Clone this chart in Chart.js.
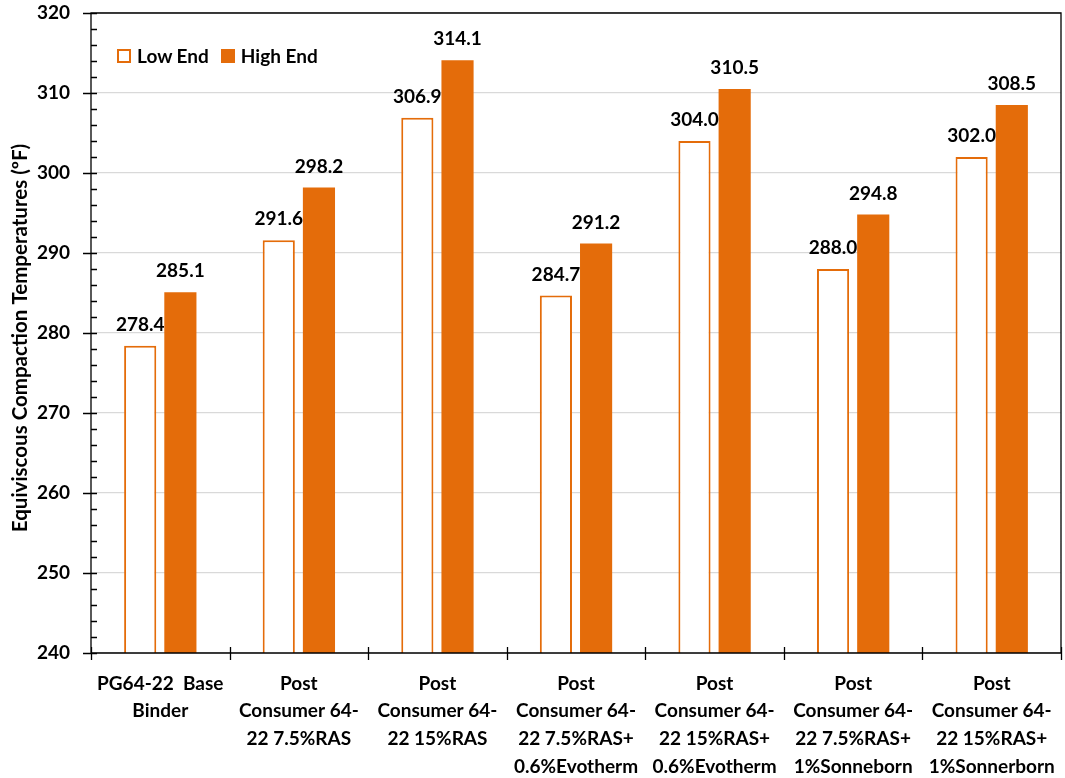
<!DOCTYPE html>
<html>
<head>
<meta charset="utf-8">
<script src="https://cdn.jsdelivr.net/npm/chart.js@4/dist/chart.umd.min.js"></script>
<style>
  html, body { margin: 0; padding: 0; background: #fff; }
  #wrap { position: relative; width: 1065px; height: 778px; }
  #legend {
    position: absolute; left: 117px; top: 44px;
    font: bold 19px Lato, 'Open Sans', sans-serif; color: #000;
    display: flex; align-items: center;
  }
  .item { display: flex; align-items: center; margin-right: 12px; }
  .box { width: 14px; height: 14px; box-sizing: border-box; margin-right: 6px; }
</style>
</head>
<body>
<div id="wrap">
  <canvas id="chart" width="1065" height="778"></canvas>
  <div id="legend">
    <div class="item"><span class="box" style="border:2px solid #E46C0A;background:#fff"></span>Low End</div>
    <div class="item"><span class="box" style="background:#E46C0A"></span>High End</div>
  </div>
</div>
<script>
// Chart data
const categories = [
  ['PG64-22  Base', 'Binder'],
  ['Post', 'Consumer 64-', '22 7.5%RAS'],
  ['Post', 'Consumer 64-', '22 15%RAS'],
  ['Post', 'Consumer 64-', '22 7.5%RAS+', '0.6%Evotherm'],
  ['Post', 'Consumer 64-', '22 15%RAS+', '0.6%Evotherm'],
  ['Post', 'Consumer 64-', '22 7.5%RAS+', '1%Sonneborn'],
  ['Post', 'Consumer 64-', '22 15%RAS+', '1%Sonnerborn']
];
const lowEnd = [278.4, 291.6, 306.9, 284.7, 304.0, 288.0, 302.0];
const highEnd = [285.1, 298.2, 314.1, 291.2, 310.5, 294.8, 308.5];
const yTitle = 'Equiviscous Compaction Temperatures (ºF)';
const yMin = 240;
const yMax = 320;
const yMajor = 10;
const yMinor = 2;

const ORANGE = '#E46C0A';
const FONT = "Lato, 'Open Sans', sans-serif";

// Value labels above each bar
const valueLabels = {
  id: 'valueLabels',
  afterDatasetsDraw(chart) {
    const ctx = chart.ctx;
    ctx.save();
    ctx.font = 'bold 19px ' + FONT;
    ctx.fillStyle = '#000';
    ctx.textAlign = 'center';
    ctx.textBaseline = 'middle';
    chart.data.datasets.forEach((ds, di) => {
      chart.getDatasetMeta(di).data.forEach((bar, i) => {
        ctx.fillText(ds.data[i].toFixed(1), bar.x, bar.y - 21);
      });
    });
    ctx.restore();
  }
};

// Axis box, tick marks (Excel style) and rotated y title
const axisMarks = {
  id: 'axisMarks',
  afterDraw(chart) {
    const ctx = chart.ctx;
    const { left, right, top, bottom } = chart.chartArea;
    const y = chart.scales.y;
    const x = chart.scales.x;
    ctx.save();
    ctx.strokeStyle = '#000';
    ctx.lineWidth = 1.3;
    ctx.beginPath();
    ctx.rect(left, top, right - left, bottom - top);
    for (let v = yMin; v <= yMax; v += yMinor) {
      const py = Math.round(y.getPixelForValue(v)) + 0.5;
      if (v % yMajor === 0) {
        ctx.moveTo(left - 8, py);
        ctx.lineTo(left + 6, py);
      } else {
        ctx.moveTo(left, py);
        ctx.lineTo(left + 6, py);
      }
    }
    const half = (x.getPixelForValue(1) - x.getPixelForValue(0)) / 2;
    for (let i = 0; i <= categories.length; i++) {
      const px = Math.round(x.getPixelForValue(i) - half) + 0.5;
      ctx.moveTo(px, bottom - 6);
      ctx.lineTo(px, bottom + 7);
    }
    ctx.stroke();

    // y axis title
    ctx.translate(20, (top + bottom) / 2 + 5);
    ctx.rotate(-Math.PI / 2);
    ctx.font = 'bold 20.5px ' + FONT;
    ctx.fillStyle = '#000';
    ctx.textAlign = 'center';
    ctx.textBaseline = 'middle';
    ctx.fillText(yTitle, 0, 0);
    ctx.restore();
  }
};

new Chart(document.getElementById('chart'), {
  type: 'bar',
  data: {
    labels: categories,
    datasets: [
      {
        label: 'Low End',
        data: lowEnd,
        backgroundColor: '#fff',
        borderColor: ORANGE,
        borderWidth: 2,
        borderSkipped: false,
        barPercentage: 0.8,
        categoryPercentage: 0.58
      },
      {
        label: 'High End',
        data: highEnd,
        backgroundColor: ORANGE,
        borderWidth: 0,
        barPercentage: 0.8,
        categoryPercentage: 0.58
      }
    ]
  },
  options: {
    responsive: false,
    animation: false,
    layout: { padding: { left: 0, top: 13, right: 4, bottom: 0 } },
    plugins: {
      legend: { display: false },
      tooltip: { enabled: false }
    },
    scales: {
      x: {
        grid: { display: false, drawTicks: false },
        border: { display: false },
        ticks: {
          color: '#000',
          font: { family: FONT, size: 19, weight: 'bold', lineHeight: 1.45 },
          padding: 17,
          maxRotation: 0,
          autoSkip: false
        },
        afterFit(scale) {
          scale.height = 125;
          scale.paddingLeft = 0;
          scale.paddingRight = 0;
        }
      },
      y: {
        min: yMin,
        max: yMax,
        grid: {
          drawTicks: false,
          color: ctx => (ctx.tick.value % yMajor === 0 ? '#d9d9d9' : 'rgba(0,0,0,0)'),
          lineWidth: 1.3
        },
        border: { display: false },
        ticks: {
          stepSize: yMinor,
          autoSkip: false,
          color: '#000',
          font: { family: FONT, size: 19, weight: 'bold' },
          padding: 21,
          callback: v => (v % yMajor === 0 ? v : '')
        },
        afterFit(scale) {
          scale.width = 91;
          scale.paddingTop = 0;
          scale.paddingBottom = 0;
        }
      }
    }
  },
  plugins: [valueLabels, axisMarks]
});
</script>
</body>
</html>
